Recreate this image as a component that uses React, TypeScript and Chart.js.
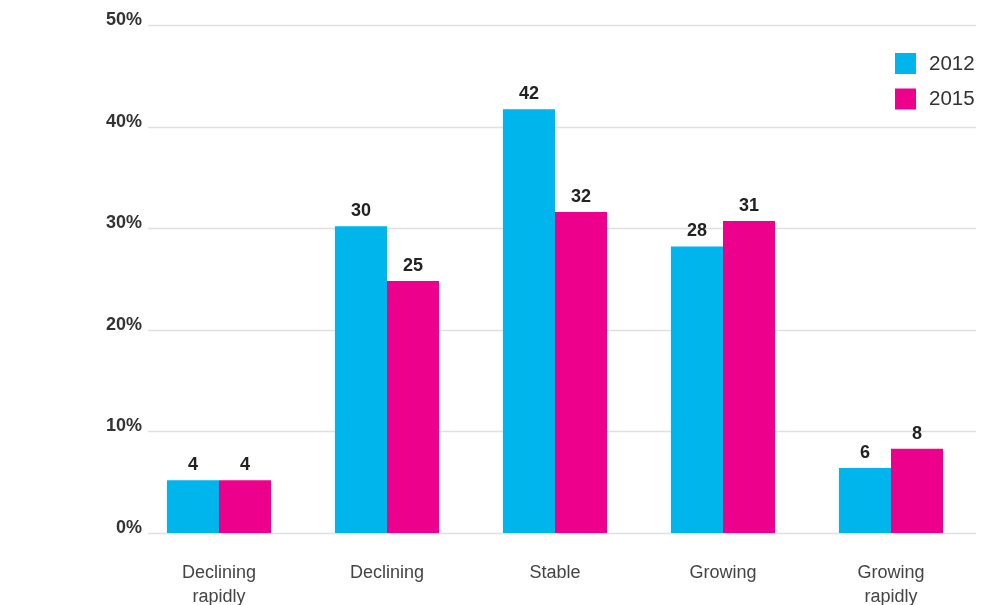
import React, { useEffect, useRef } from "react";
import { Chart, registerables } from "chart.js";

Chart.register(...registerables);

const categories: (string | string[])[] = [
  ["Declining", "rapidly"],
  "Declining",
  "Stable",
  "Growing",
  ["Growing", "rapidly"],
];
const seriesNames = ["2012", "2015"];
const values2012 = [5.2, 30.2, 41.7, 28.2, 6.4];
const values2015 = [5.2, 24.8, 31.6, 30.7, 8.3];
const labels2012 = ["4", "30", "42", "28", "6"];
const labels2015 = ["4", "25", "32", "31", "8"];
const yTicks = [0, 10, 20, 30, 40, 50];

const COLORS = ["#00b5ec", "#ec008c"];
const FONT = "'Liberation Sans', Arial, Helvetica, sans-serif";
const Y_FONT = `bold 18px ${FONT}`;

const gridPlugin = {
  id: "customGrid",
  beforeDatasetsDraw(chart: any) {
    const { ctx } = chart;
    const y = chart.scales.y;
    ctx.save();
    ctx.strokeStyle = "#e0e0e0";
    ctx.lineWidth = 1.3;
    yTicks.forEach((v) => {
      const py = Math.round(y.getPixelForValue(v)) + 0.5;
      ctx.beginPath();
      ctx.moveTo(148, py);
      ctx.lineTo(976, py);
      ctx.stroke();
    });
    ctx.restore();
  },
};

const valueLabelPlugin = {
  id: "valueLabels",
  afterDatasetsDraw(chart: any) {
    const { ctx } = chart;
    const texts = [labels2012, labels2015];
    ctx.save();
    ctx.font = `bold 18px ${FONT}`;
    ctx.fillStyle = "#222222";
    ctx.textAlign = "center";
    ctx.textBaseline = "alphabetic";
    chart.data.datasets.forEach((_: any, di: number) => {
      const meta = chart.getDatasetMeta(di);
      meta.data.forEach((bar: any, i: number) => {
        ctx.fillText(texts[di][i], bar.x, bar.y - 10);
      });
    });
    ctx.restore();
  },
};

const legendPlugin = {
  id: "customLegend",
  afterDraw(chart: any) {
    const { ctx } = chart;
    ctx.save();
    ctx.font = `20.5px ${FONT}`;
    ctx.textAlign = "left";
    ctx.textBaseline = "middle";
    seriesNames.forEach((name, i) => {
      const top = 53 + i * 35.5;
      ctx.fillStyle = COLORS[i];
      ctx.fillRect(895, top, 21, 21);
      ctx.fillStyle = "#333333";
      ctx.fillText(name, 929, top + 11);
    });
    ctx.restore();
  },
};

export default function App() {
  const ref = useRef<HTMLCanvasElement | null>(null);

  useEffect(() => {
    document.body.style.margin = "0";
    const canvas = ref.current;
    if (!canvas) return;
    const mctx = canvas.getContext("2d") as CanvasRenderingContext2D;
    mctx.font = Y_FONT;
    const widest = Math.max(...yTicks.map((v) => mctx.measureText(`${v}%`).width));
    const yPadding = 7 - widest;

    const chart = new Chart(canvas, {
      type: "bar",
      data: {
        labels: categories as any,
        datasets: [
          {
            label: seriesNames[0],
            data: values2012,
            backgroundColor: COLORS[0],
            borderWidth: 0,
          },
          {
            label: seriesNames[1],
            data: values2015,
            backgroundColor: COLORS[1],
            borderWidth: 0,
          },
        ],
      },
      options: {
        animation: false,
        responsive: false,
        devicePixelRatio: 1,
        datasets: {
          bar: { categoryPercentage: 0.62, barPercentage: 1 },
        },
        layout: { padding: { top: 25, right: 23, left: 0, bottom: 0 } },
        plugins: {
          legend: { display: false },
          tooltip: { enabled: false },
        },
        scales: {
          x: {
            grid: { display: false, drawTicks: false },
            border: { display: false },
            ticks: {
              font: { family: FONT, size: 18, lineHeight: 1.33 },
              color: "#444444",
              padding: 28,
              maxRotation: 0,
              autoSkip: false,
            },
            afterFit(scale: any) {
              scale.height = 72;
            },
          },
          y: {
            min: 0,
            max: 50,
            grid: { display: false, drawTicks: false },
            border: { display: false },
            ticks: {
              stepSize: 10,
              mirror: true,
              crossAlign: "far",
              padding: yPadding,
              labelOffset: -5,
              font: { family: FONT, size: 18, weight: "bold" },
              color: "#333333",
              callback: (v: any) => `${v}%`,
            },
            afterFit(scale: any) {
              scale.width = 135;
            },
          },
        },
      } as any,
      plugins: [gridPlugin, valueLabelPlugin, legendPlugin],
    });
    return () => chart.destroy();
  }, []);

  return (
    <div style={{ width: 998, height: 605 }}>
      <canvas ref={ref} width={998} height={605} />
    </div>
  );
}
